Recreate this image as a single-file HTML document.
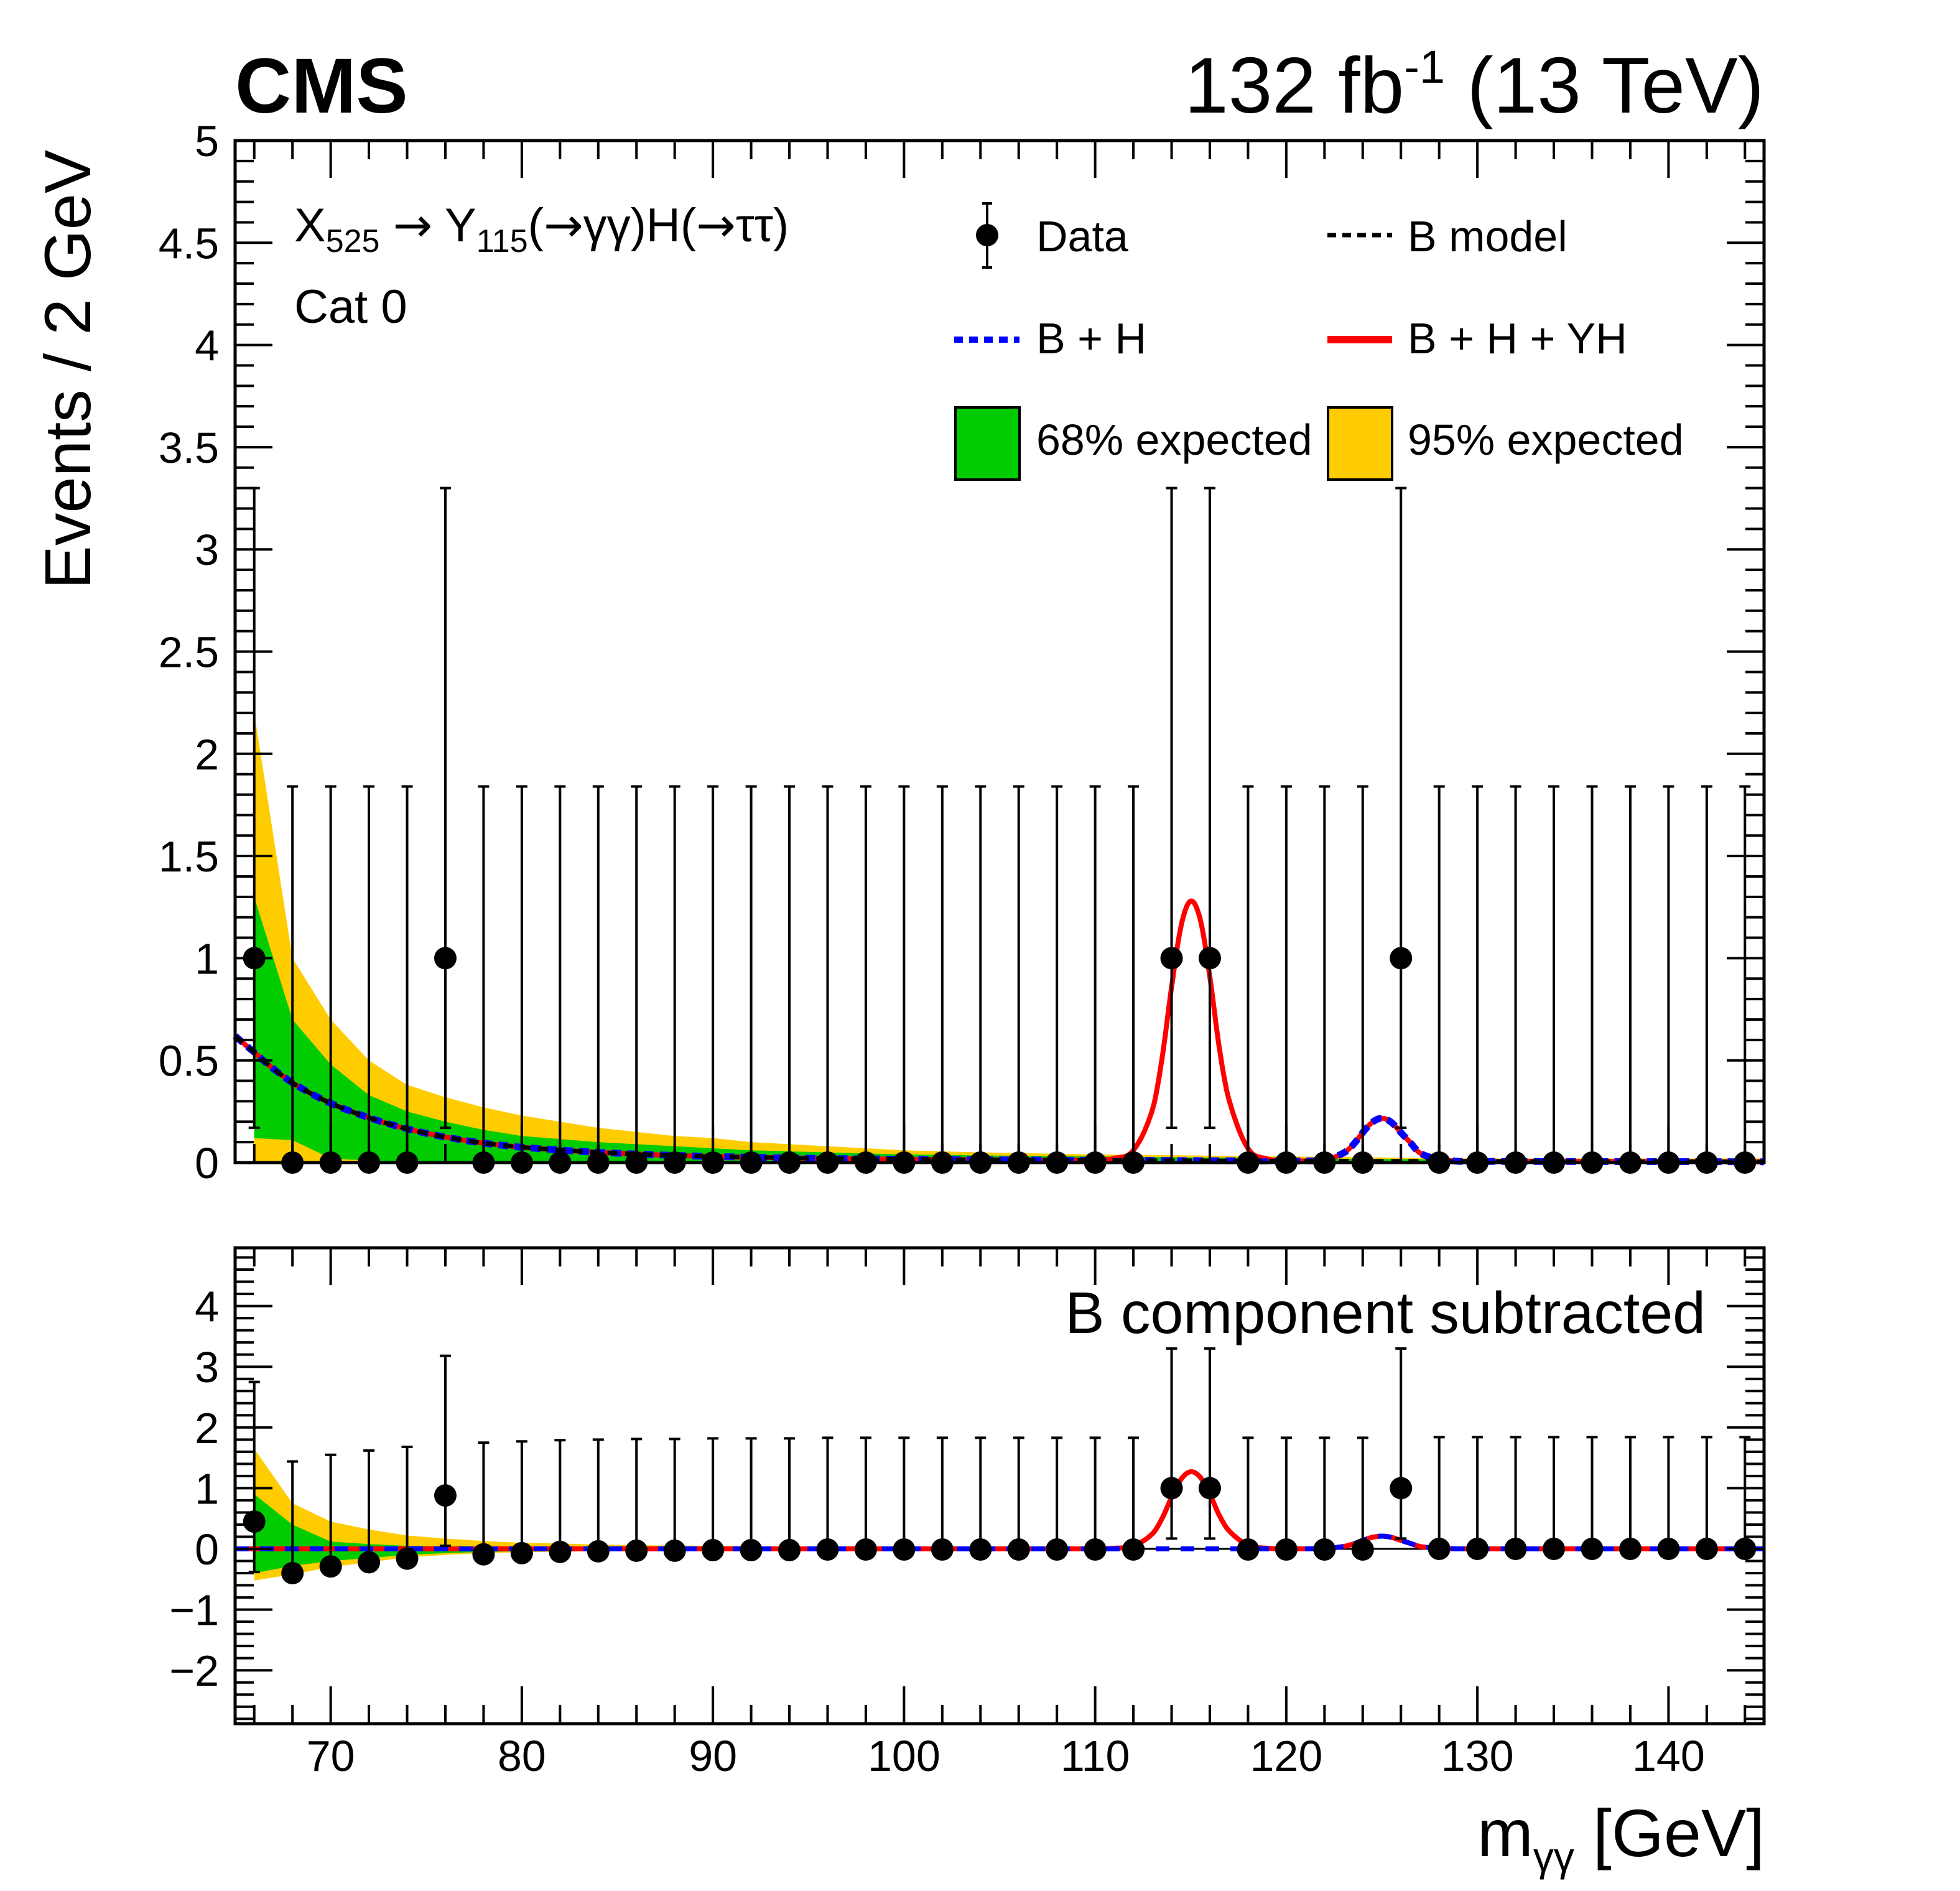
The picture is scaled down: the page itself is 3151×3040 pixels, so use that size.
<!DOCTYPE html>
<html><head><meta charset="utf-8"><style>
html,body{margin:0;padding:0;background:#fff}
svg{display:block}
text{font-family:"Liberation Sans",sans-serif;fill:#000}
.arr{font-family:"DejaVu Sans",sans-serif}
</style></head><body>
<svg id="chart" xmlns="http://www.w3.org/2000/svg" width="3151" height="3040" viewBox="0 0 3151 3040">
<g id="top-bands"></g>
<g id="bot-bands"></g>
<g id="curves"></g>
<g id="points"></g>
<g id="axes"></g>
<text x="378" y="181" font-size="125" font-weight="bold">CMS</text>
<text x="2836" y="181" font-size="127" text-anchor="end">132 fb<tspan dy="-48" font-size="74">-1</tspan><tspan dy="48"> (13 TeV)</tspan></text>
<text transform="translate(145,241) rotate(-90)" font-size="105" text-anchor="end">Events / 2 GeV</text>
<text x="2837" y="2984" font-size="108" text-anchor="end">m<tspan dy="24" font-size="66">γγ</tspan><tspan dy="-24"> [GeV]</tspan></text>
<text x="473" y="388" font-size="76">X<tspan dy="17" font-size="52">525</tspan><tspan dy="-17"> </tspan><tspan class="arr">→</tspan> Y<tspan dy="17" font-size="52">115</tspan><tspan dy="-17">(</tspan><tspan class="arr">→</tspan>γγ)H(<tspan class="arr">→</tspan>ττ)</text>
<text x="473" y="519" font-size="76">Cat 0</text>
<text x="2742" y="2143" font-size="95" text-anchor="end">B component subtracted</text>
<g>
 <g>
  <line x1="1587" y1="327" x2="1587" y2="430" stroke="#000" stroke-width="4"/>
  <line x1="1579" y1="327" x2="1595" y2="327" stroke="#000" stroke-width="4"/>
  <line x1="1579" y1="430" x2="1595" y2="430" stroke="#000" stroke-width="4"/>
  <circle cx="1587" cy="378" r="18" fill="#000"/>
  <text x="1666" y="404" font-size="70">Data</text>
 </g>
 <g>
  <line x1="2134" y1="378" x2="2238" y2="378" stroke="#000" stroke-width="7" stroke-dasharray="14,10"/>
  <text x="2263" y="404" font-size="70">B model</text>
 </g>
 <g>
  <line x1="1534" y1="546" x2="1639" y2="546" stroke="#00f" stroke-width="10" stroke-dasharray="14,10"/>
  <text x="1666" y="568" font-size="70">B + H</text>
 </g>
 <g>
  <line x1="2134" y1="546" x2="2238" y2="546" stroke="#f00" stroke-width="12"/>
  <text x="2263" y="568" font-size="70">B + H + YH</text>
 </g>
 <g>
  <rect x="1536" y="655" width="103" height="116" fill="#00cc00" stroke="#000" stroke-width="4"/>
  <text x="1666" y="731" font-size="70">68% expected</text>
 </g>
 <g>
  <rect x="2135" y="655" width="103" height="116" fill="#ffcc00" stroke="#000" stroke-width="4"/>
  <text x="2263" y="731" font-size="70">95% expected</text>
 </g>
</g>
</svg>
<script>
// ---- data ----
const binX = [66,68,70,72,74,76,78,80,82,84,86,88,90,92,94,96,98,100,102,104,106,108,110,112,114,116,118,120,122,124,126,128,130,132,134,136,138,140,142,144];
const counts = [1,0,0,0,0,1,0,0,0,0,0,0,0,0,0,0,0,0,0,0,0,0,0,0,1,1,0,0,0,0,1,0,0,0,0,0,0,0,0,0];
const subVals = [0.45,-0.4,-0.29,-0.22,-0.16,0.88,-0.09,-0.07,-0.05,-0.04,-0.03,-0.03,-0.02,-0.02,-0.02,-0.01,-0.01,-0.01,-0.01,-0.01,-0.01,-0.01,-0.01,-0.01,1.0,1.0,-0.01,-0.01,-0.01,-0.01,1.0,0,0,0,0,0,0,0,0,0];
const errUpN0 = 1.84, errUpN1 = 2.3, errLoN1 = 0.83;
const bModelX = [65,66,68,70,72,74,76,78,80,84,88,92,96,100,110,120,130,145];
const bModelY = [0.62,0.54,0.39,0.29,0.22,0.165,0.125,0.095,0.075,0.05,0.035,0.026,0.02,0.016,0.011,0.008,0.006,0.004];
const yhX = [110,111,112,113,113.5,114,114.5,115,115.5,116,116.5,117,118,119,120];
const yhY = [0,0.01,0.05,0.25,0.5,0.85,1.15,1.27,1.18,0.9,0.55,0.3,0.06,0.01,0];
const hX = [121,122,123,123.5,124,124.5,125,125.5,126,126.5,127,128,129];
const hY = [0,0.005,0.04,0.08,0.14,0.19,0.21,0.19,0.14,0.09,0.04,0.01,0];
const bandX = [66,68,70,72,74,76,78,80,82,84,86,88,90,92,94,96,98,100,104,110,120,130,145];
const top95Up = [2.2,1.0,0.7,0.5,0.38,0.32,0.27,0.23,0.2,0.17,0.15,0.13,0.12,0.1,0.09,0.08,0.07,0.06,0.05,0.04,0.03,0.02,0.02];
const top68Up = [1.3,0.7,0.48,0.33,0.25,0.2,0.16,0.13,0.115,0.1,0.09,0.08,0.07,0.06,0.055,0.05,0.045,0.04,0.035,0.03,0.02,0.015,0.01];
const top68Lo = [0.12,0.11,0.02,0.01,0,0,0,0,0,0,0,0,0,0,0,0,0,0,0,0,0,0,0];
const top95Lo = [0,0,0.005,0,0,0,0,0,0,0,0,0,0,0,0,0,0,0,0,0,0,0,0];
const bot95Up = [1.65,0.75,0.45,0.32,0.22,0.17,0.13,0.1,0.09,0.07,0.06,0.055,0.05,0.045,0.04,0.035,0.03,0.03,0.025,0.02,0.015,0.01,0.01];
const bot68Up = [0.9,0.4,0.12,0.08,0.05,0.04,0.03,0.025,0.02,0.02,0.015,0.015,0.01,0.01,0.01,0.01,0.01,0.01,0.01,0.005,0.005,0.005,0.005];
const bot68Lo = [-0.4,-0.28,-0.2,-0.15,-0.1,-0.07,-0.05,-0.04,-0.035,-0.03,-0.025,-0.02,-0.02,-0.015,-0.015,-0.01,-0.01,-0.01,-0.01,-0.01,-0.005,-0.005,-0.005];
const bot95Lo = [-0.52,-0.42,-0.3,-0.22,-0.14,-0.1,-0.07,-0.055,-0.045,-0.04,-0.035,-0.03,-0.025,-0.02,-0.02,-0.015,-0.015,-0.01,-0.01,-0.01,-0.005,-0.005,-0.005];
const topYTicks = ["0","0.5","1","1.5","2","2.5","3","3.5","4","4.5","5"];
const botYTicks = ["−2","−1","0","1","2","3","4"];
const xTickLabels = ["70","80","90","100","110","120","130","140"];

// ---- axes functions ----
const L=378, R=2836, T1=226, B1=1869, T2=2006, B2=2771;
const X0=65, X1=145;
const sx = v => L + (v-X0)/(X1-X0)*(R-L);
const syT = v => B1 - v*(B1-T1)/5;
const yB0=2490, yBU=97.6;
const syB = v => yB0 - v*yBU;
const NS='http://www.w3.org/2000/svg';
function mk(tag, parent, attrs){const e=document.createElementNS(NS,tag);for(const k in attrs)e.setAttribute(k,attrs[k]);parent.appendChild(e);return e;}
// smooth (Catmull-Rom) interpolation through sampled points
function interp(xs,ys,x){
  const n=xs.length;
  if(x<xs[0]||x>xs[n-1])return 0;
  let i=1;while(i<n-1&&x>xs[i])i++;
  const x0=xs[i-1],x1=xs[i],y0=ys[i-1],y1=ys[i];
  const m0=i-2>=0?(ys[i]-ys[i-2])/(xs[i]-xs[i-2]):(y1-y0)/(x1-x0);
  const m1=i+1<n?(ys[i+1]-ys[i-1])/(xs[i+1]-xs[i-1]):(y1-y0)/(x1-x0);
  const h=x1-x0,t=(x-x0)/h,t2=t*t,t3=t2*t;
  return (2*t3-3*t2+1)*y0+(t3-2*t2+t)*h*m0+(-2*t3+3*t2)*y1+(t3-t2)*h*m1;
}
function interpB(x){
  for(let i=1;i<bModelX.length;i++){if(x<=bModelX[i]){const t=(x-bModelX[i-1])/(bModelX[i]-bModelX[i-1]);return Math.exp(Math.log(bModelY[i-1])+t*(Math.log(bModelY[i])-Math.log(bModelY[i-1])));}}
  return bModelY[bModelY.length-1];
}

// ---- bands ----
function band(g, up, lo, sy, color, name){
  let d='M'+sx(bandX[0])+','+sy(lo[0]);
  for(let i=0;i<bandX.length;i++) d+=' L'+sx(bandX[i])+','+sy(up[i]);
  for(let i=bandX.length-1;i>=0;i--) d+=' L'+sx(bandX[i])+','+sy(lo[i]);
  const p=mk('path',g,{d:d+'Z',fill:color});
  
  
}
const tb=document.getElementById('top-bands');
band(tb, top95Up, top95Lo, syT, '#ffcc00', 'top-band-95');
band(tb, top68Up, top68Lo, syT, '#00cc00', 'top-band-68');
const bb=document.getElementById('bot-bands');
band(bb, bot95Up, bot95Lo, syB, '#ffcc00', 'bottom-band-95');
band(bb, bot68Up, bot68Lo, syB, '#00cc00', 'bottom-band-68');

// ---- curves ----
const cg=document.getElementById('curves');
function curvePath(fn, sy){let d='';for(let x=X0;x<=X1+1e-9;x+=0.05){d+=(d?' L':'M')+sx(x).toFixed(1)+','+sy(fn(x)).toFixed(1);}return d;}
function addCurve(d,stroke,w,dash,name){const a={d:d,fill:'none',stroke:stroke,'stroke-width':w,'stroke-linejoin':'round'};if(dash)a['stroke-dasharray']=dash;const p=mk('path',cg,a);
  
  }
addCurve(curvePath(x=>interpB(x)+interp(hX,hY,x),syT),'#00f',11,'16,10','top-curve-b-h');
addCurve(curvePath(x=>interpB(x)+interp(hX,hY,x)+interp(yhX,yhY,x),syT),'#f00',8,null,'top-curve-b-h-yh');
addCurve(curvePath(x=>interpB(x)+interp(hX,hY,x),syT),'#00f',8,'16,10','top-curve-b-h-dash');
addCurve(curvePath(x=>interpB(x),syT),'#000',7,'16,12','top-curve-b-model');
mk('line',cg,{x1:L,y1:syB(0),x2:R,y2:syB(0),stroke:'#000','stroke-width':3});
addCurve(curvePath(x=>interp(hX,hY,x)+interp(yhX,yhY,x),syB),'#f00',8,null,'bottom-curve-h-yh');
addCurve(curvePath(x=>interp(hX,hY,x),syB),'#00f',8,'22,18','bottom-curve-h');

// ---- data points ----
const pg=document.getElementById('points');
function pt(x,v,up,lo,sy,name){
  const g=mk('g',pg,{});
  
  
  const X=sx(x);
  mk('line',g,{x1:X,y1:sy(up),x2:X,y2:sy(lo),stroke:'#000','stroke-width':4});
  mk('line',g,{x1:X-9,y1:sy(up),x2:X+9,y2:sy(up),stroke:'#000','stroke-width':4});
  if(lo<v-1e-6) mk('line',g,{x1:X-9,y1:sy(lo),x2:X+9,y2:sy(lo),stroke:'#000','stroke-width':4});
  mk('circle',g,{cx:X,cy:sy(v),r:18,fill:'#000'});
}
for(let i=0;i<binX.length;i++){
  const n=counts[i];
  const up=n>0?n+errUpN1:errUpN0, lo=n>0?n-errLoN1:0;
  pt(binX[i],n,up,lo,syT,'data-point-top-'+binX[i]);
  const s=subVals[i];
  pt(binX[i],s,s+(n>0?errUpN1:errUpN0),n>0?s-errLoN1:s,syB,'data-point-bottom-'+binX[i]);
}

// ---- axes / ticks ----
const ag=document.getElementById('axes');
function frame(T,B,name){const r=mk('rect',ag,{x:L,y:T,width:R-L,height:B-T,fill:'none',stroke:'#000','stroke-width':5});
  
  }
frame(T1,B1,'top-panel-frame');frame(T2,B2,'bottom-panel-frame');
function tick(x1,y1,x2,y2){mk('line',ag,{x1:x1,y1:y1,x2:x2,y2:y2,stroke:'#000','stroke-width':4});}
for(let x=66;x<=144;x+=2){
  const major=(x%10===0); const len=major?60:30;
  const X=sx(x);
  tick(X,B1,X,B1-len);tick(X,T1,X,T1+len);
  tick(X,B2,X,B2-len);tick(X,T2,X,T2+len);
}
xTickLabels.forEach(lbl=>{const v=parseFloat(lbl);const t=mk('text',ag,{x:sx(v),y:2847,'font-size':70,'text-anchor':'middle'});t.textContent=lbl;
  
  });
for(let k=0;k<=50;k++){const v=k*0.1;const Y=syT(v);const major=(k%5===0);const len=major?60:30;tick(L,Y,L+len,Y);tick(R,Y,R-len,Y);}
topYTicks.forEach(lbl=>{const v=parseFloat(lbl);const t=mk('text',ag,{x:352,y:syT(v)+25,'font-size':70,'text-anchor':'end'});t.textContent=lbl;
  
  });
for(let k=-14;k<=24;k++){const v=k*0.2;const Y=syB(v);if(Y<T2||Y>B2)continue;const major=(k%5===0);const len=major?60:30;tick(L,Y,L+len,Y);tick(R,Y,R-len,Y);}
botYTicks.forEach(lbl=>{const v=parseFloat(lbl.replace('−','-'));const t=mk('text',ag,{x:352,y:syB(v)+25,'font-size':70,'text-anchor':'end'});t.textContent=lbl;
  
  });
</script>
</body></html>
